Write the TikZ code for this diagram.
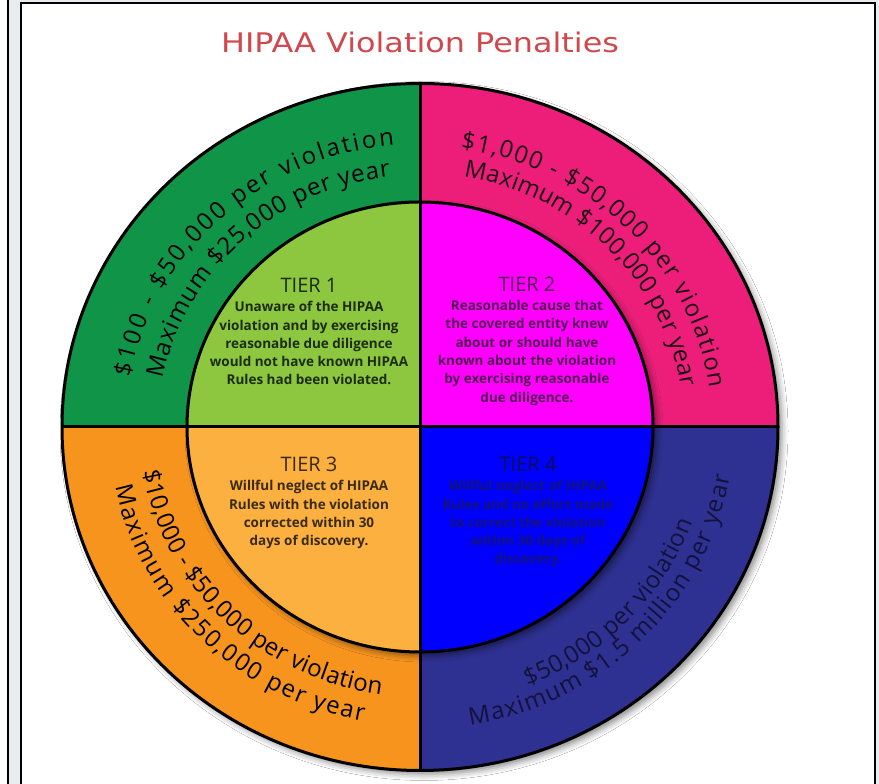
\documentclass[tikz,border=0pt]{standalone}
\usepackage{fontspec}
\setmainfont{Open Sans}
\newfontfamily\titlefamily{DejaVu Sans}
\usepackage{tikz}
\usetikzlibrary{positioning, calc, decorations.text, shadows.blur}
\definecolor{pagegray}{RGB}{233,236,239}
\definecolor{titlered}{RGB}{208,72,78}
\definecolor{ringgreen}{RGB}{16,148,72}
\definecolor{ringpink}{RGB}{236,30,122}
\definecolor{ringorange}{RGB}{247,148,30}
\definecolor{ringnavy}{RGB}{46,49,146}
\definecolor{coregreen}{RGB}{141,198,63}
\definecolor{coremagenta}{RGB}{255,0,255}
\definecolor{coreorange}{RGB}{251,176,64}
\definecolor{coreblue}{RGB}{0,0,255}
\definecolor{inkgreen}{RGB}{28,44,14}
\definecolor{inkpurple}{RGB}{84,20,84}
\definecolor{inkbrown}{RGB}{58,42,18}
\definecolor{inknavy}{RGB}{20,20,120}
\definecolor{inkpink}{RGB}{30,10,20}
\definecolor{inkdeep}{RGB}{18,18,60}
\newcommand\ringfont{\fontsize{24}{24}\selectfont}
\tikzset{
  tierhead/.style={font=\fontsize{20}{20}\selectfont, inner sep=0pt, anchor=base},
  tierbody/.style={font=\bfseries\fontsize{13.5}{18.3}\selectfont, align=center, inner sep=0pt},
  ringtext/.style={decorate, decoration={text along path, text align=fit to path, text color=#1}},
  ringline/.style={draw=black, line width=3pt},
}
\begin{document}
\begin{tikzpicture}[x=1pt, y=1pt]
\useasboundingbox (0,0) rectangle (879,784);
\fill[pagegray] (0,0) rectangle (879,784);
\fill[white] (0,0) rectangle (8,784);
\draw[line width=1.5pt] (8,0) -- (8,784);
\draw[line width=2pt, fill=white] (21,-5) rectangle (875,781);

\node[tierhead, font=\titlefamily\fontsize{27}{27}\selectfont, text=titlered, xscale=1.18] (title) at (420,731) {HIPAA Violation Penalties};

\coordinate (C) at (420,357);
\fill[white, blur shadow={shadow xshift=4pt, shadow yshift=-4pt, shadow blur radius=6pt, shadow opacity=45}]
  (C) ellipse [x radius=358, y radius=343.5];
\begin{scope}
  \clip (C) ellipse [x radius=358, y radius=343.5];
  \fill[ringgreen]  (C) rectangle ++(-370, 360);
  \fill[ringpink]   (C) rectangle ++( 370, 360);
  \fill[ringorange] (C) rectangle ++(-370,-360);
  \fill[ringnavy]   (C) rectangle ++( 370,-360);
\end{scope}
\fill[black, blur shadow={shadow xshift=4pt, shadow yshift=-4pt, shadow blur radius=6pt, shadow opacity=45}]
  (C) ellipse [x radius=233, y radius=225];
\begin{scope}
  \clip (C) ellipse [x radius=233, y radius=225];
  \fill[coregreen]   (C) rectangle ++(-240, 240);
  \fill[coremagenta] (C) rectangle ++( 240, 240);
  \fill[coreorange]  (C) rectangle ++(-240,-240);
  \fill[coreblue]    (C) rectangle ++( 240,-240);
\end{scope}
\draw[ringline] (C) ellipse [x radius=358, y radius=343.5];
\draw[ringline] (C) ellipse [x radius=233, y radius=225];
\draw[ringline] ($(C)+(0,343.5)$) -- ($(C)+(0,-343.5)$);
\draw[ringline] ($(C)+(-358,0)$) -- ($(C)+(358,0)$);

% outer ring penalties
\path[ringtext=black, decoration={text={|\ringfont|{\$}100 - {\$}50,000 per violation}}]
  ($(C)+(170:294 and 283)$) arc [start angle=170, end angle=95, x radius=294, y radius=283];
\path[ringtext=black, decoration={text={|\ringfont|Maximum {\$}25,000 per year}}]
  ($(C)+(169:262 and 252)$) arc [start angle=169, end angle=96.5, x radius=262, y radius=252];
\path[ringtext=inkpink, decoration={text={|\ringfont|{\$}1,000 - {\$}50,000 per violation}}]
  ($(C)+(82:292 and 281)$) arc [start angle=82, end angle=8, x radius=292, y radius=281];
\path[ringtext=inkpink, decoration={text={|\ringfont|Maximum {\$}100,000 per year}}]
  ($(C)+(80.5:264 and 254)$) arc [start angle=80.5, end angle=9, x radius=264, y radius=254];
\path[ringtext=black, decoration={text={|\ringfont|{\$}10,000 - {\$}50,000 per violation}}]
  ($(C)+(189.5:281 and 270)$) arc [start angle=189.5, end angle=262, x radius=281, y radius=270];
\path[ringtext=black, decoration={text={|\ringfont|Maximum {\$}250,000 per year}}]
  ($(C)+(191.5:311 and 299)$) arc [start angle=191.5, end angle=259.5, x radius=311, y radius=299];
\path[ringtext=inkdeep, decoration={text={|\ringfont|{\$}50,000 per violation}}]
  ($(C)+(291.8:290 and 279)$) arc [start angle=291.8, end angle=340, x radius=290, y radius=279];
\path[ringtext=inkdeep, decoration={text={|\ringfont|Maximum {\$}1.5 million per year}}]
  ($(C)+(279.2:314 and 302)$) arc [start angle=279.2, end angle=350.6, x radius=314, y radius=302];

% tiers
\node[tierhead, text=inkgreen] (tier1) at (309,491) {TIER 1};
\node[tierbody, text=inkgreen, below=8pt of tier1] (tier1-text)
  {Unaware of the HIPAA\\violation and by exercising\\reasonable due diligence\\would not have known HIPAA\\Rules had been violated.};
\node[tierhead, text=inkpurple] (tier2) at (527,492) {TIER 2};
\node[tierbody, text=inkpurple, below=8pt of tier2] (tier2-text)
  {Reasonable cause that\\the covered entity knew\\about or should have\\known about the violation\\by exercising reasonable\\due diligence.};
\node[tierhead, text=inkbrown] (tier3) at (309,312) {TIER 3};
\node[tierbody, text=inkbrown, below=8pt of tier3] (tier3-text)
  {Willful neglect of HIPAA\\Rules with the violation\\corrected within 30\\days of discovery.};
\node[tierhead, text=inknavy!70!black] (tier4) at (528,312) {TIER 4};
\node[tierbody, text=inknavy, below=8pt of tier4] (tier4-text)
  {Willful neglect of HIPAA\\Rules and no effort made\\to correct the violation\\within 30 days of\\discovery.};
\end{tikzpicture}
\end{document}
